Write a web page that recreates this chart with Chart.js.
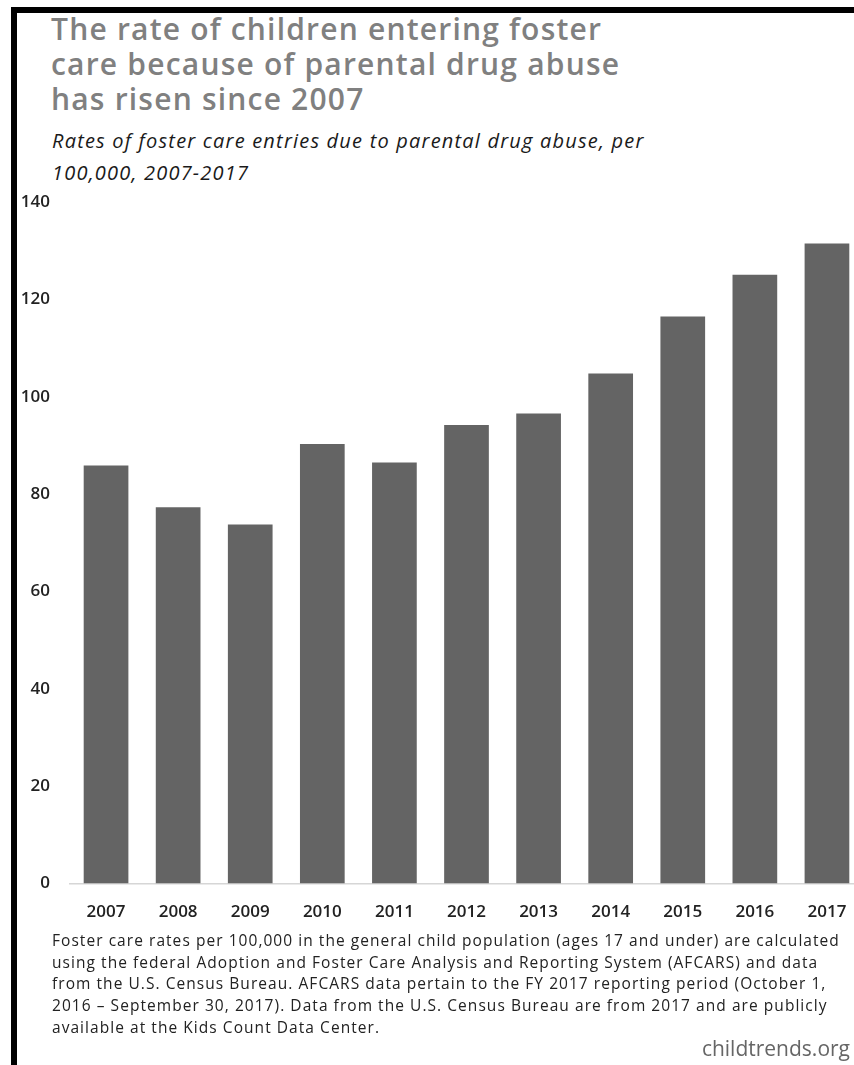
<!DOCTYPE html>
<html>
<head>
<meta charset="utf-8">
<script src="https://cdn.jsdelivr.net/npm/chart.js@4.4.0/dist/chart.umd.min.js"></script>
<style>
  html, body { margin: 0; padding: 0; background: #fff; }
  body { width: 854px; height: 1065px; position: relative; overflow: hidden; font-family: "Open Sans", Lato, sans-serif; }
  .frame-top { position: absolute; left: 11px; top: 7px; width: 843px; height: 6px; background: #000; }
  .frame-left { position: absolute; left: 11px; top: 7px; width: 6px; height: 1058px; background: #000; }
  .title { position: absolute; left: 51px; top: 11px; margin: 0; font-size: 30px; font-weight: 600; letter-spacing: 1.2px; line-height: 35px; color: #808080; white-space: nowrap; }
  .subtitle { position: absolute; left: 52px; top: 125px; margin: 0; font-size: 20px; font-style: italic; letter-spacing: 1.2px; line-height: 32px; color: #1a1a1a; white-space: nowrap; }
  .chart-box { position: absolute; left: 0; top: 180px; width: 880px; height: 752px; }
  .note { position: absolute; left: 52px; top: 930px; margin: 0; font-size: 15.5px; letter-spacing: 1.05px; line-height: 21.7px; color: #222; white-space: nowrap; }
  .source { position: absolute; right: 4px; top: 1034px; font-size: 21px; color: #666; }
</style>
</head>
<body>
<div class="frame-top"></div>
<div class="frame-left"></div>
<h1 class="title">The rate of children entering foster<br>care because of parental drug abuse<br>has risen since 2007</h1>
<p class="subtitle">Rates of foster care entries due to parental drug abuse, per<br>100,000, 2007-2017</p>
<div class="chart-box"><canvas id="fosterChart" width="880" height="752"></canvas></div>
<p class="note">Foster care rates per 100,000 in the general child population (ages 17 and under) are calculated<br>using the federal Adoption and Foster Care Analysis and Reporting System (AFCARS) and data<br>from the U.S. Census Bureau. AFCARS data pertain to the FY 2017 reporting period (October 1,<br>2016 – September 30, 2017). Data from the U.S. Census Bureau are from 2017 and are publicly<br>available at the Kids Count Data Center.</p>
<div class="source">childtrends.org</div>

<script>
const years = ['2007', '2008', '2009', '2010', '2011', '2012', '2013', '2014', '2015', '2016', '2017'];
const entryRates = [85.9, 77.3, 73.8, 90.3, 86.5, 94.2, 96.6, 104.8, 116.5, 125.1, 131.5];
const yTicks = [0, 20, 40, 60, 80, 100, 120, 140];

const ctx = document.getElementById('fosterChart');

new Chart(ctx, {
  type: 'bar',
  data: {
    labels: years,
    datasets: [{
      data: entryRates,
      backgroundColor: '#646464',
      borderWidth: 0,
      barPercentage: 0.62,
      categoryPercentage: 1,
    }]
  },
  options: {
    responsive: false,
    animation: false,
    layout: { padding: { top: 0, right: 17, bottom: 0, left: 0 } },
    plugins: {
      legend: { display: false },
      tooltip: { enabled: false },
    },
    scales: {
      x: {
        grid: { display: false },
        border: { display: true, color: '#d6d6d6', width: 1.5 },
        ticks: { color: '#222', font: { family: 'Open Sans', size: 17, weight: 600 }, padding: 10, maxRotation: 0 },
      },
      y: {
        min: 0,
        max: yTicks[yTicks.length - 1],
        afterBuildTicks: (axis) => { axis.ticks = yTicks.map(v => ({ value: v })); },
        afterFit: (axis) => { axis.width = 70; },
        grid: { display: false },
        border: { display: false },
        ticks: { color: '#222', font: { family: 'Open Sans', size: 17, weight: 600 }, padding: 12 },
      }
    }
  },
});
</script>
</body>
</html>
